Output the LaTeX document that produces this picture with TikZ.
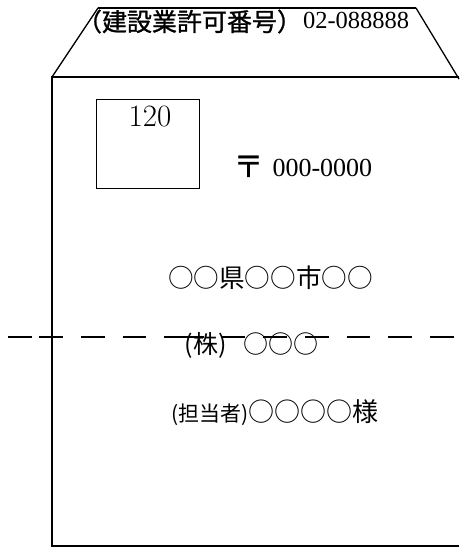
\documentclass[tikz,border=0pt]{standalone}
\usepackage{fontspec}
\newfontfamily\jp{Noto Sans CJK JP}
\newfontfamily\jpb[FakeBold=1.2]{Noto Sans CJK JP}
\newfontfamily\tms{Liberation Serif}
\newcommand{\fs}[1]{\fontsize{#1}{#1}\selectfont}
\tikzset{
  txt/.style={inner sep=0pt, outer sep=0pt},
  body/.style={line width=2.3pt},
  flapline/.style={line width=1.3pt},
  flaptop/.style={line width=2pt},
  cutline/.style={line width=2pt, dash pattern=on 23.6pt off 18.07pt},
}
\begin{document}
\begin{tikzpicture}[x=1pt,y=-1pt]
\useasboundingbox (0,0) rectangle (459,547);
% envelope flap
\coordinate (fl) at (52,77);
\coordinate (ftl) at (98,8);
\coordinate (ftr) at (416,8);
\coordinate (fr) at (459,79);
\draw[flapline] (fl) -- (ftl);
\draw[flaptop] (ftl) -- (ftr);
\draw[flapline] (ftr) -- (fr);
% envelope body
\coordinate (btr) at (459,77);
\coordinate (bbl) at (52,546);
\coordinate (bbr) at (459,546);
\draw[body] (btr) -- (fl) -- (bbl) -- (bbr);
% top label
\node[txt, anchor=base west] (lic) at (77,31) {\jpb\fs{25}（建設業許可番号）};
\node[txt, anchor=base west] (licno) at (303,28.5) {\tms\fs{24.5}02-088888};
% stamp box
\node[draw, line width=1pt, minimum width=103pt, minimum height=89pt, inner sep=0pt, anchor=north west] (stamp) at (96,99) {};
\node[txt, anchor=base] (price) at (150,126) {\fs{31}120};
% postal code
\node[txt] (yubin) at (248.5,166.5) {\jpb\fs{30}〒};
\node[txt, anchor=base west] (zip) at (272.5,176) {\tms\fs{26}000-0000};
% address
\node[txt] (addr) at (270.5,278) {\jp\fs{25.6}○○県○○市○○};
\node[txt] (corp) at (251.5,345) {\jp\fs{25}(株)\hspace{17pt}○○○};
\node[txt] (name) at (275,413) {\jp{\fs{21}(担当者)}{\fs{26}○○○○様}};
% cut line
\coordinate (c0) at (8.3,337);
\coordinate (c1) at (31.7,337);
\coordinate (c2) at (39.3,337);
\coordinate (c3) at (188,337);
\coordinate (c4) at (180,337);
\coordinate (c5) at (459,337);
\draw[line width=2pt] (c0) -- (c1);
\draw[cutline] (c2) -- (c3);
\draw[cutline] (c4) -- (c5);
\end{tikzpicture}
\end{document}
